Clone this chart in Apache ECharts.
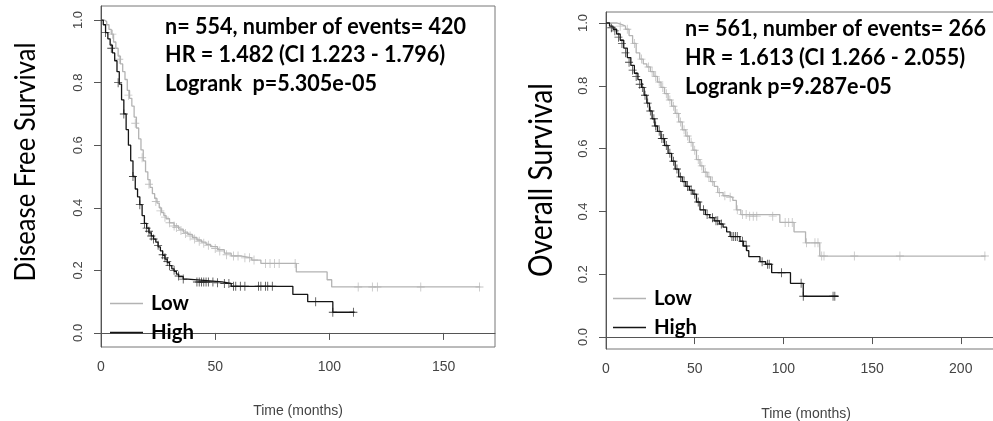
<!DOCTYPE html>
<html><head><meta charset="utf-8">
<script src="https://cdn.jsdelivr.net/npm/echarts@6/dist/echarts.min.js"></script>
<style>html,body{margin:0;padding:0;background:#fff}#c{width:993px;height:421px}</style>
</head><body><div id="c"></div><script>
// ---------- DATA ----------
const xTicksDFS = [0, 50, 100, 150];
const xTicksOS = [0, 50, 100, 150, 200];
const yTicks = [0, 0.2, 0.4, 0.6, 0.8, 1.0];
const groupNames = ['Low', 'High'];
const yTitleDFS = 'Disease Free Survival';
const yTitleOS = 'Overall Survival';
const xTitle = 'Time (months)';
const statsDFS = ['n= 554, number of events= 420', 'HR = 1.482 (CI 1.223 - 1.796)', 'Logrank  p=5.305e-05'];
const statsOS = ['n= 561, number of events= 266', 'HR = 1.613 (CI 1.266 - 2.055)', 'Logrank p=9.287e-05'];

// Disease free survival, Low group: [time, survival]
const dfsLow = [[0,1],[1.5,0.995],[2.5,0.985],[3.5,0.97],[4.5,0.955],[5.5,0.93],[6.5,0.91],[7.5,0.885],[8.5,0.86],[9.5,0.835],[10.5,0.81],[11.5,0.775],[12.5,0.75],[13.5,0.725],[14.5,0.69],[15.5,0.655],[16.5,0.62],[17.5,0.585],[18.5,0.55],[19.5,0.515],[20.5,0.49],[21.5,0.465],[22.5,0.445],[23.5,0.43],[24.5,0.415],[25.5,0.4],[26.5,0.385],[27.5,0.375],[28.5,0.365],[30,0.352],[32,0.342],[34,0.332],[36,0.322],[38,0.315],[40,0.305],[42,0.297],[44,0.29],[46,0.283],[48,0.276],[51,0.266],[54,0.255],[57,0.246],[61,0.24],[66,0.233],[70,0.222],[85.5,0.195],[99,0.17],[101,0.147],[166,0.147]];
const dfsHigh = [[0,1],[1,0.985],[2,0.96],[3,0.94],[4,0.92],[5,0.895],[6,0.87],[7,0.835],[8,0.795],[9,0.745],[10,0.7],[11,0.65],[12,0.6],[13,0.55],[14,0.5],[15,0.46],[16,0.435],[17,0.41],[18,0.375],[19,0.35],[20,0.335],[21,0.32],[22,0.31],[23,0.3],[24,0.29],[25,0.275],[26,0.262],[27,0.248],[28,0.236],[29,0.225],[30,0.215],[31,0.205],[32,0.197],[33,0.188],[34,0.18],[36,0.172],[38,0.168],[45,0.163],[53,0.158],[57,0.149],[84,0.123],[90.5,0.1],[101.5,0.066],[111,0.066]];
const dfsLowCens = [[5,0.955],[8,0.875],[12,0.76],[15,0.67],[18,0.56],[21,0.475],[24,0.42],[26,0.39],[28,0.37],[30,0.352],[32,0.342],[33,0.337],[35,0.327],[37,0.318],[39,0.31],[41,0.3],[43,0.293],[45,0.287],[47,0.28],[50,0.27],[52,0.262],[55,0.25],[58,0.246],[60,0.246],[63,0.24],[65,0.24],[67,0.233],[72,0.222],[74,0.222],[76,0.222],[78,0.222],[85,0.222],[112.6,0.147],[118.8,0.147],[121,0.147],[140,0.147],[165.7,0.147]];
const dfsHighCens = [[2,0.96],[4.5,0.91],[7.5,0.8],[10,0.7],[14,0.5],[17,0.41],[19,0.35],[20,0.335],[21,0.325],[22,0.31],[23,0.3],[25,0.28],[27,0.25],[28,0.24],[29,0.228],[30,0.215],[32,0.2],[34,0.182],[36,0.172],[42,0.163],[43,0.163],[44,0.163],[45,0.163],[46,0.163],[47,0.163],[49,0.163],[51,0.16],[54,0.158],[56,0.158],[58,0.149],[59,0.149],[61,0.149],[63,0.149],[69,0.149],[70,0.149],[72,0.149],[73,0.149],[75,0.149],[94,0.1],[101.5,0.066],[110.5,0.066]];

// Overall survival
const osLow = [[0,1],[6,0.995],[9,0.99],[11,0.98],[13,0.96],[15,0.935],[17,0.905],[19,0.885],[21,0.87],[23,0.86],[25,0.845],[27,0.83],[29,0.812],[31,0.795],[33,0.775],[35,0.755],[37,0.735],[39,0.712],[41,0.685],[43,0.66],[45,0.64],[47,0.62],[49,0.595],[51,0.565],[53,0.545],[55,0.525],[57,0.51],[59,0.495],[61,0.48],[63,0.46],[66,0.45],[69,0.445],[71.5,0.435],[73.5,0.405],[76,0.39],[98,0.365],[106,0.335],[112.5,0.3],[120.5,0.258],[214,0.258]];
const osHigh = [[0,1],[2,0.99],[4,0.98],[6,0.965],[8,0.945],[10,0.92],[12,0.89],[14,0.865],[16,0.84],[18,0.82],[20,0.795],[21.5,0.77],[23,0.745],[24.5,0.72],[26,0.695],[27.5,0.672],[29,0.655],[31,0.632],[33,0.61],[35,0.585],[37,0.56],[39,0.535],[41,0.51],[43,0.495],[45,0.48],[47,0.468],[49,0.455],[51,0.43],[53,0.405],[56,0.39],[58.5,0.38],[61,0.37],[64,0.36],[66,0.35],[68,0.335],[70,0.32],[75.5,0.305],[77.5,0.29],[79.3,0.275],[80.5,0.256],[86.8,0.24],[90,0.232],[93.4,0.205],[104,0.171],[111.2,0.13],[131,0.13]];
const osLowCens = [[8,0.99],[12,0.98],[16,0.935],[20,0.885],[24,0.86],[26,0.845],[28,0.83],[30,0.812],[32,0.795],[34,0.775],[36,0.755],[38,0.735],[40,0.712],[42,0.685],[44,0.66],[46,0.64],[48,0.62],[50,0.595],[52,0.565],[54,0.545],[56,0.525],[58,0.51],[60,0.495],[64,0.46],[67,0.45],[70,0.445],[74,0.405],[77,0.39],[79,0.39],[81,0.385],[83,0.385],[85,0.385],[94,0.385],[101,0.365],[103,0.365],[105,0.365],[113,0.3],[117.8,0.3],[119.5,0.3],[121.6,0.258],[122.9,0.258],[140,0.258],[165.7,0.258],[213.6,0.258]];
const osHighCens = [[3,0.985],[5,0.975],[7,0.955],[9,0.935],[11,0.905],[13,0.875],[15,0.85],[17,0.83],[19,0.805],[20.5,0.795],[22,0.77],[23.5,0.745],[25,0.72],[27,0.695],[28,0.672],[30,0.655],[31.5,0.632],[32.5,0.632],[34,0.61],[36,0.585],[38,0.56],[40,0.535],[42,0.51],[44,0.495],[46,0.48],[48,0.468],[50,0.455],[52,0.43],[55,0.405],[57,0.39],[60,0.38],[62,0.37],[63,0.37],[65,0.36],[71,0.32],[72,0.32],[73,0.32],[74,0.32],[77,0.305],[79,0.29],[88,0.24],[91,0.232],[92,0.232],[99,0.205],[110,0.171],[111.2,0.13],[128,0.13],[129,0.13]];

// ---------- STYLE ----------
const lowColor = '#b3b3b3', highColor = '#151515';
const plus = 'path://M0,9H20V11H0Z M9,0H11V20H9Z';
const ctx = document.createElement('canvas').getContext('2d');
function fitSize(text, weight, family, target) {
  ctx.font = weight + ' 100px ' + family;
  return 100 * target / ctx.measureText(text).width;
}
const boldFam = 'Lato';
const statSize = fitSize(statsDFS[0], 'bold', boldFam, 301);
const legSize = fitSize('High', 'bold', boldFam, 43);
const yTitleSizeDFS = fitSize(yTitleDFS, 'normal', 'Lato', 239);
const yTitleSizeOS = fitSize(yTitleOS, 'normal', 'Lato', 194);

const chart = echarts.init(document.getElementById('c'), null, {renderer: 'canvas'});

function xAxisCfg(gi, max, ticks, gap) {
  return {
    type: 'value', gridIndex: gi, min: 0, max: max,
    name: xTitle, nameLocation: 'middle', nameGap: gap,
    nameTextStyle: {fontFamily: 'Liberation Sans', fontSize: 14, color: '#444'},
    axisLine: {show: true, lineStyle: {color: '#555', width: 1}},
    axisTick: {show: true, inside: false, length: 7, customValues: ticks, lineStyle: {color: '#555'}},
    axisLabel: {customValues: ticks, margin: 13, fontFamily: 'Liberation Sans', fontSize: 14, color: '#444'},
    splitLine: {show: false}
  };
}
function yAxisCfg(gi, min, max) {
  return {
    type: 'value', gridIndex: gi, min: min, max: max,
    axisLine: {show: true, lineStyle: {color: '#555', width: 1}},
    axisTick: {show: true, inside: false, length: 7, customValues: yTicks, lineStyle: {color: '#555'}},
    axisLabel: {customValues: yTicks, rotate: 90, margin: 16, fontFamily: 'Liberation Sans', fontSize: 13, color: '#444',
      formatter: v => v.toFixed(1)},
    splitLine: {show: false}
  };
}
function lineS(name, data, xi, color) {
  return {name: name, type: 'line', step: 'end', xAxisIndex: xi, yAxisIndex: xi, data: data,
    showSymbol: false, symbol: 'none', lineStyle: {color: color, width: 1.3}, itemStyle: {color: color},
    animation: false, silent: true};
}
function censS(name, data, xi, color) {
  return {name: name, type: 'scatter', xAxisIndex: xi, yAxisIndex: xi, data: data,
    symbol: plus, symbolSize: [8, 9], itemStyle: {color: color}, animation: false, silent: true};
}
function statTexts(x, ys, lines) {
  return lines.map((t, i) => ({type: 'text', x: x, y: ys[i], scaleY: 1.08,
    style: {text: t, font: 'bold ' + statSize.toFixed(2) + 'px ' + boldFam, fill: '#000', textVerticalAlign: 'middle'}}));
}
function legendCfg(left, top) {
  return {show: true, orient: 'vertical', left: left, top: top, padding: 0, data: groupNames, selectedMode: false,
    icon: 'path://M0,0H33V1.6H0Z', itemWidth: 33, itemHeight: 1.6, itemGap: 8,
    textStyle: {fontFamily: boldFam, fontWeight: 'bold', fontSize: legSize, color: '#000', lineHeight: 21, padding: [0, 0, 0, 3]}};
}

chart.setOption({
  backgroundColor: '#fff',
  animation: false,
  grid: [
    {left: 101, top: 6, width: 394, height: 341, show: true, borderColor: '#777', borderWidth: 1, containLabel: false, outerBoundsMode: 'none'},
    {left: 606, top: 12, width: 400, height: 337, show: true, borderColor: '#777', borderWidth: 1, containLabel: false, outerBoundsMode: 'none'}
  ],
  xAxis: [xAxisCfg(0, 172.5, xTicksDFS, 57), xAxisCfg(1, 225.5, xTicksOS, 58)],
  yAxis: [yAxisCfg(0, -0.045, 1.045), yAxisCfg(1, -0.038, 1.035)],
  legend: [legendCfg(110, 293), legendCfg(613, 288)],
  series: [
    lineS('Low', dfsLow, 0, lowColor), lineS('High', dfsHigh, 0, highColor),
    censS('Low censored', dfsLowCens, 0, lowColor), censS('High censored', dfsHighCens, 0, highColor),
    lineS('Low', osLow, 1, lowColor), lineS('High', osHigh, 1, highColor),
    censS('Low censored', osLowCens, 1, lowColor), censS('High censored', osHighCens, 1, highColor)
  ],
  graphic: [
    {type: 'text', x: 25, y: 162, rotation: Math.PI / 2, scaleY: 1.15,
      style: {text: yTitleDFS, font: 'normal ' + yTitleSizeDFS.toFixed(2) + 'px Lato', fill: '#000', textAlign: 'center', textVerticalAlign: 'middle'}},
    {type: 'text', x: 542, y: 180, rotation: Math.PI / 2, scaleY: 1.15,
      style: {text: yTitleOS, font: 'normal ' + yTitleSizeOS.toFixed(2) + 'px Lato', fill: '#000', textAlign: 'center', textVerticalAlign: 'middle'}}
  ].concat(statTexts(165, [26, 54, 83], statsDFS), statTexts(685, [28, 57, 86], statsOS))
});
</script></body></html>
